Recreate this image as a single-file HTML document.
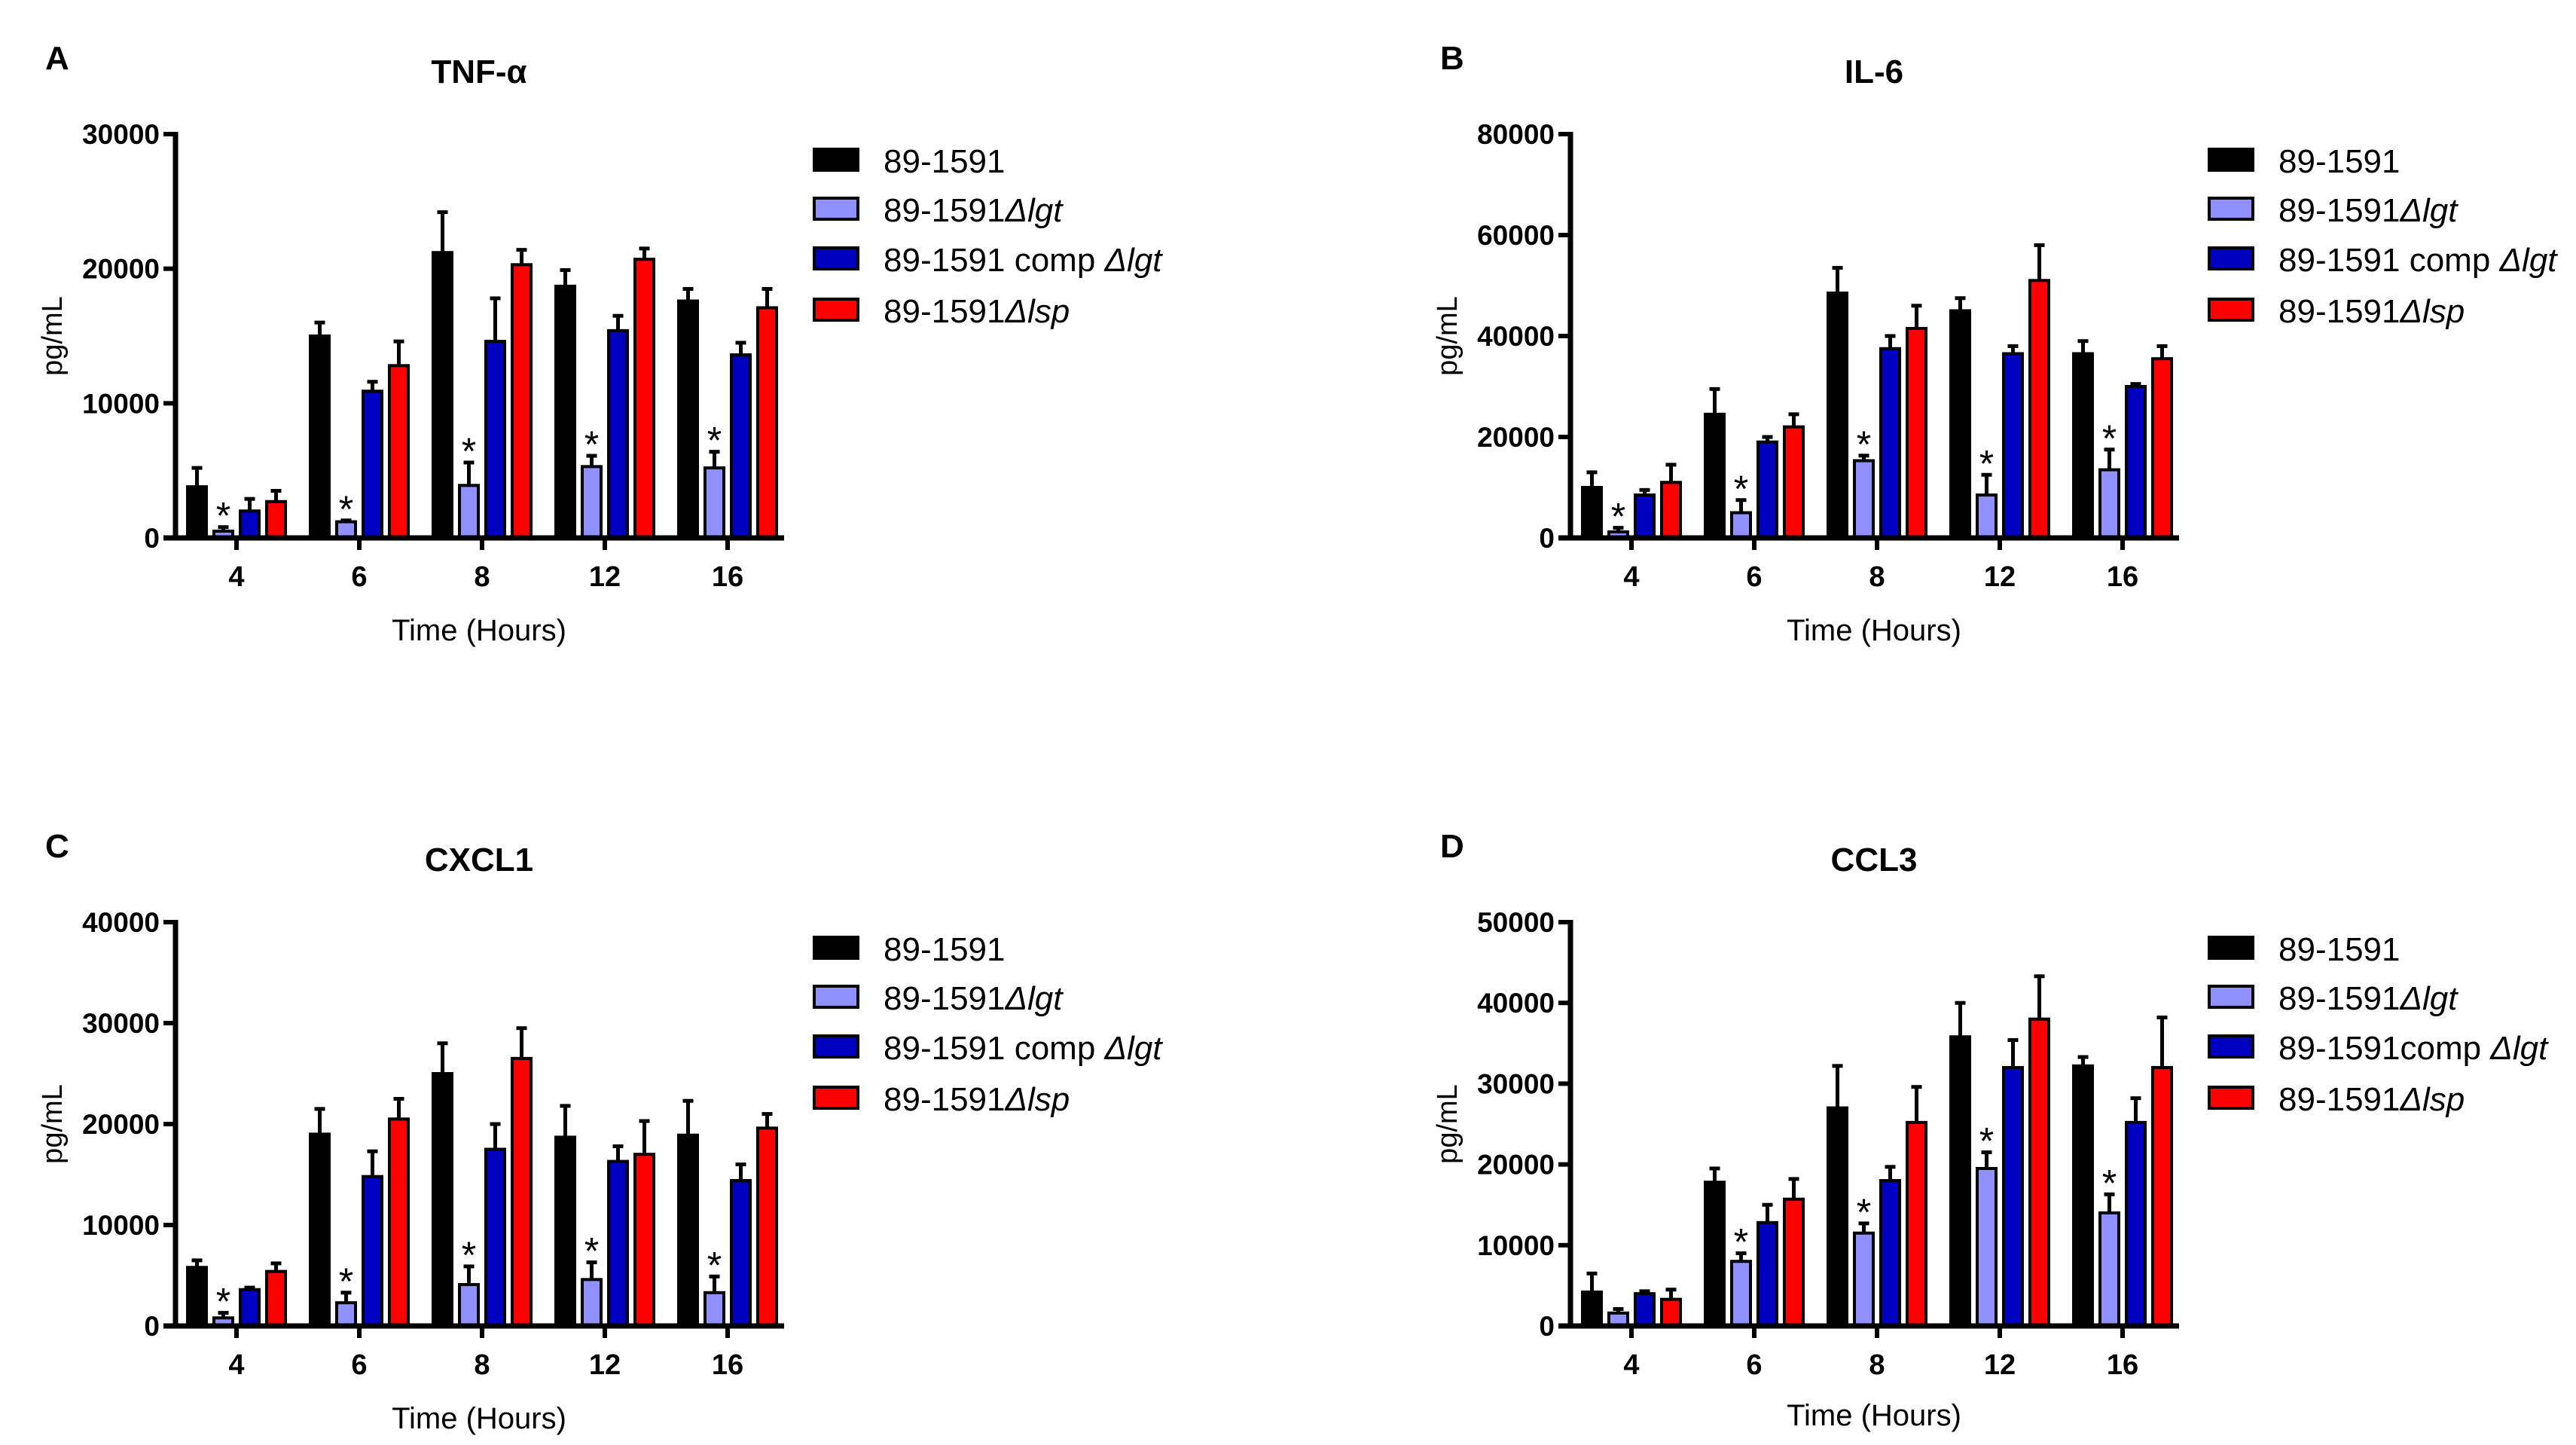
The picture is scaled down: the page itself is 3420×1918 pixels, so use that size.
<!DOCTYPE html>
<html><head><meta charset="utf-8"><style>
html,body{margin:0;padding:0;background:#fff;}
svg{display:block;font-family:"Liberation Sans",Arial,sans-serif;}
</style></head>
<body>
<svg id="fig" width="3420" height="1918" viewBox="0 0 3420 1918" xmlns="http://www.w3.org/2000/svg"></svg>
<script>
const categories = ["4","6","8","12","16"];
const seriesNames = ["89-1591","89-1591Δlgt","89-1591 comp Δlgt","89-1591Δlsp"];
const titles = ["TNF-α","IL-6","CXCL1","CCL3"];
const letters = ["A","B","C","D"];
const yMaxes = [30000,80000,40000,50000];
const yStepsArr = [10000,20000,10000,10000];
// panel A
const aBlack=[3800,15000,21200,18700,17600], aBlackErr=[5200,16000,24200,19900,18500];
const aLav=[500,1200,3900,5300,5200], aLavErr=[800,1300,5600,6100,6400];
const aBlue=[2000,10900,14600,15400,13600], aBlueErr=[2900,11600,17800,16500,14500];
const aRed=[2700,12800,20300,20700,17100], aRedErr=[3500,14600,21400,21500,18500];
// panel B
const bBlack=[10000,24500,48500,45000,36500], bBlackErr=[13000,29500,53500,47500,39000];
const bLav=[1200,5000,15300,8500,13500], bLavErr=[2000,7500,16300,12500,17500];
const bBlue=[8500,19000,37500,36500,30000], bBlueErr=[9500,20000,40000,38000,30500];
const bRed=[11000,22000,41500,51000,35500], bRedErr=[14500,24500,46000,58000,38000];
// panel C
const cBlack=[5800,19000,25000,18700,18900], cBlackErr=[6500,21500,28000,21800,22300];
const cLav=[800,2300,4100,4600,3300], cLavErr=[1300,3300,5900,6300,4900];
const cBlue=[3600,14800,17500,16300,14400], cBlueErr=[3800,17300,20000,17800,16000];
const cRed=[5400,20500,26500,17000,19600], cRedErr=[6200,22500,29500,20300,21000];
// panel D
const dBlack=[4200,17800,27000,35800,32200], dBlackErr=[6500,19500,32200,40000,33300];
const dLav=[1600,8000,11500,19500,14000], dLavErr=[2100,9000,12700,21500,16300];
const dBlue=[4000,12800,18000,32000,25200], dBlueErr=[4300,15000,19700,35400,28200];
const dRed=[3300,15700,25200,38000,32000], dRedErr=[4500,18200,29600,43300,38200];
const stars=[[1,1,1,1,1],[1,1,1,1,1],[1,1,1,1,1],[0,1,1,1,1]];

const panels=[
 {v:[aBlack,aLav,aBlue,aRed],e:[aBlackErr,aLavErr,aBlueErr,aRedErr],dx:0,dy:0},
 {v:[bBlack,bLav,bBlue,bRed],e:[bBlackErr,bLavErr,bBlueErr,bRedErr],dx:1852,dy:0},
 {v:[cBlack,cLav,cBlue,cRed],e:[cBlackErr,cLavErr,cBlueErr,cRedErr],dx:0,dy:1046},
 {v:[dBlack,dLav,dBlue,dRed],e:[dBlackErr,dLavErr,dBlueErr,dRedErr],dx:1852,dy:1046}
];
const colors=["#000000","#9090ff","#0000c0","#ff0000"];
const NS="http://www.w3.org/2000/svg";
const svg=document.getElementById('fig');
function mk(tag,attrs,parent,text){const el=document.createElementNS(NS,tag);for(const k in attrs)el.setAttribute(k,attrs[k]);if(text!==undefined)el.textContent=text;(parent||svg).appendChild(el);return el;}

panels.forEach((p,pi)=>{
  const g=mk('g',{transform:`translate(${p.dx},${p.dy})`});
  
  
  const X0=233,X1=1041,TOP=178,ZERO=714;
  const ymax=yMaxes[pi];
  const y=v=>ZERO-(v/ymax)*(ZERO-TOP);
  const cx=i=>314+i*163;
  const pitch=35,bw=25;
  let t=mk('text',{x:60,y:92,'font-size':44,'font-weight':'bold'},g,letters[pi]);
  
  t=mk('text',{x:636,y:110,'font-size':44,'font-weight':'bold','text-anchor':'middle'},g,titles[pi]);
  
  t=mk('text',{x:0,y:0,'font-size':38,'text-anchor':'middle',transform:`translate(82,${(TOP+ZERO)/2}) rotate(-90)`},g,'pg/mL');
  
  t=mk('text',{x:636,y:pi===3?846:850,'font-size':40,'text-anchor':'middle'},g,'Time (Hours)');
  
  p.v.forEach((arr,si)=>{
    arr.forEach((val,ci)=>{
      const xl=cx(ci)+(si-1.5)*pitch-bw/2;
      const err=p.e[si][ci];
      const ln=mk('line',{x1:xl+bw/2,x2:xl+bw/2,y1:y(val),y2:y(err),stroke:'#000','stroke-width':5},g);
      
      const cap=mk('line',{x1:xl+bw/2-7,x2:xl+bw/2+7,y1:y(err),y2:y(err),stroke:'#000','stroke-width':5},g);
      
      const r=mk('rect',{x:xl,y:y(val),width:bw,height:ZERO-y(val),fill:colors[si],stroke:'#000','stroke-width':4},g);
      
      
      if(si===1&&stars[pi][ci]){
        const s=mk('text',{x:xl+bw/2,y:y(err)+2,'font-size':50,'text-anchor':'middle'},g,'*');
        
      }
    });
  });
  let a=mk('line',{x1:X0,x2:X0,y1:TOP-3,y2:ZERO+3,stroke:'#000','stroke-width':7},g);
  
  a=mk('line',{x1:X0-16,x2:X1,y1:ZERO,y2:ZERO,stroke:'#000','stroke-width':7},g);
  
  for(let v=0;v<=ymax;v+=yStepsArr[pi]){
    const tk=mk('line',{x1:X0-16,x2:X0,y1:y(v),y2:y(v),stroke:'#000','stroke-width':6},g);
    
    const tl=mk('text',{x:212,y:y(v)+13,'font-size':37,'font-weight':'bold','text-anchor':'end'},g,String(v));
    
  }
  categories.forEach((c,ci)=>{
    const tk=mk('line',{x1:cx(ci),x2:cx(ci),y1:ZERO,y2:ZERO+16,stroke:'#000','stroke-width':6},g);
    
    const tl=mk('text',{x:cx(ci),y:ZERO+64,'font-size':38,'font-weight':'bold','text-anchor':'middle'},g,c);
    
  });
  const rows=[213,278,344,412];
  seriesNames.forEach((n,si)=>{
    const lg=mk('g',{},g);
    
    mk('rect',{x:1081,y:rows[si]-15,width:58,height:28,fill:colors[si],stroke:'#000','stroke-width':4},lg);
    const tx=mk('text',{x:1173,y:rows[si]+16,'font-size':44},lg);
    const base=['89-1591','89-1591','89-1591 comp ','89-1591'][si];
    const ital=['','Δlgt','Δlgt','Δlsp'][si];
    tx.appendChild(document.createTextNode(pi===3&&si===2?'89-1591comp ':base));
    if(ital){const ts=document.createElementNS(NS,'tspan');ts.setAttribute('font-style','italic');ts.textContent=ital;tx.appendChild(ts);}
  });
});
</script>
</body></html>
